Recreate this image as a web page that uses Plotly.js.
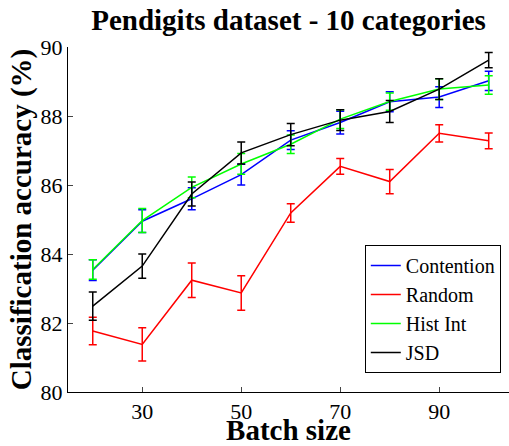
<!DOCTYPE html>
<html>
<head>
<meta charset="utf-8">
<script src="https://cdn.plot.ly/plotly-3.0.1.min.js"></script>
<style>
html,body{margin:0;padding:0;background:#fff;}
</style>
</head>
<body>
<div id="chart"></div>
<script>
const batchSize = [20, 30, 40, 50, 60, 70, 80, 90, 100];
const seriesNames = ['Contention', 'Random', 'Hist Int', 'JSD'];
const contention = [83.53, 84.95, 85.60, 86.30, 87.30, 87.81, 88.41, 88.55, 89.02];
const contentionErr = [0.30, 0.33, 0.32, 0.30, 0.27, 0.33, 0.29, 0.30, 0.28];
const random = [81.77, 81.38, 83.24, 82.87, 85.19, 86.54, 86.10, 87.50, 87.28];
const randomErr = [0.40, 0.48, 0.50, 0.50, 0.27, 0.23, 0.35, 0.25, 0.23];
const histInt = [83.55, 84.97, 85.93, 86.61, 87.18, 87.91, 88.42, 88.78, 88.90];
const histIntErr = [0.28, 0.35, 0.30, 0.30, 0.27, 0.27, 0.25, 0.30, 0.27];
const jsd = [82.49, 83.65, 85.74, 86.93, 87.46, 87.88, 88.13, 88.78, 89.62];
const jsdErr = [0.41, 0.35, 0.35, 0.32, 0.32, 0.30, 0.32, 0.30, 0.22];
const xTicks = [30, 50, 70, 90];
const yTicks = [80, 82, 84, 86, 88, 90];

const colors = ['#0000ff', '#ff0000', '#00ff00', '#000000'];
const ys = [contention, random, histInt, jsd];
const errs = [contentionErr, randomErr, histIntErr, jsdErr];
const serif = s => '<span style="font-family:Liberation Serif">' + s + '</span>';

const traces = ys.map((y, i) => ({
  x: batchSize, y: y, name: serif(seriesNames[i]), type: 'scatter', mode: 'lines',
  line: {color: colors[i], width: 1.5},
  error_y: {type: 'data', array: errs[i], visible: true, color: colors[i], thickness: 1.5, width: 4}
}));

const font = 'Liberation Serif';
const layout = {
  width: 509, height: 446,
  margin: {l: 68, r: 0, t: 47, b: 54},
  paper_bgcolor: '#fff', plot_bgcolor: '#fff',
  font: {family: font, color: '#000', size: 22},
  title: {text: '<b>Pendigits dataset - 10 categories</b>', font: {family: font, size: 29, color: '#000'},
          x: 0.5, xref: 'paper', xanchor: 'center', y: 0.955, yanchor: 'middle'},
  xaxis: {range: [15, 104.1], tickvals: xTicks, ticktext: xTicks.map(v => serif(String(v))), ticks: 'inside', ticklen: 5,
          showline: true, linecolor: '#000', linewidth: 1, showgrid: false, zeroline: false,
          tickfont: {family: font, size: 22, color: '#000'},
          title: {text: '<b>Batch size</b>', font: {family: font, size: 29, color: '#000'}, standoff: 2}},
  yaxis: {range: [80, 90], tickvals: yTicks, ticktext: yTicks.map(v => serif(String(v))), ticks: 'inside', ticklen: 5,
          showline: true, linecolor: '#000', linewidth: 1, showgrid: false, zeroline: false,
          tickfont: {family: font, size: 22, color: '#000'},
          title: {text: '<b>Classification accuracy (%)</b>', font: {family: font, size: 29, color: '#000'}, standoff: 0}},
  legend: {x: 0.673, y: 0.426, xanchor: 'left', yanchor: 'top', bordercolor: '#000', borderwidth: 1,
           bgcolor: '#fff', font: {family: font, size: 20, color: '#000'}, itemwidth: 30, tracegroupgap: 0},
  showlegend: true
};
Plotly.newPlot('chart', traces, layout, {displayModeBar: false, staticPlot: true});
</script>
</body>
</html>
